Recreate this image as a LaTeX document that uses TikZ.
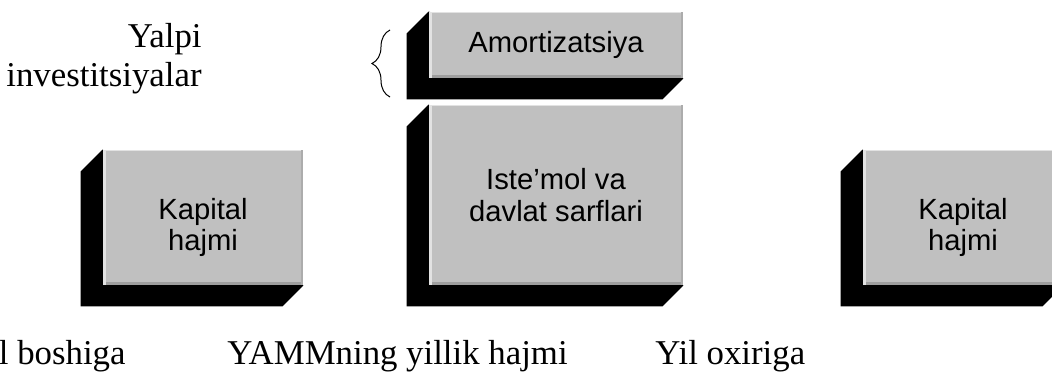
\documentclass[tikz,border=0pt]{standalone}
\usepackage{fontspec}
\setmainfont{Liberation Serif}
\newfontfamily\slabfont{Liberation Sans}
\usetikzlibrary{positioning,calc,backgrounds,decorations.pathreplacing}
\definecolor{slabgray}{RGB}{192,192,192}
\definecolor{bevlite}{RGB}{226,226,226}
\definecolor{bevdark}{RGB}{158,158,158}
\tikzset{
  slab/.style={rectangle, fill=slabgray, inner sep=0pt, align=center,
               font=\slabfont\fontsize{14.6}{15.6}\selectfont},
  slabtext/.style={inner sep=0pt, align=center, font=\slabfont\fontsize{14.6}{15.6}\selectfont},
  lbl/.style={inner sep=0pt, font=\fontsize{17.4}{19.5}\selectfont},
  brc/.style={decorate, decoration={brace, amplitude=9pt}, line width=0.5pt},
}

\begin{document}
\begin{tikzpicture}[x=0.5pt, y=-0.5pt]
\useasboundingbox (0,0) rectangle (1052,376);
\clip (0,0) rectangle (1052,376);

% ===================== the slabs =========================================
\node[slab, minimum width=100pt, minimum height=67.5pt] (cap0) at (203,217.5) {};
\node[slab, minimum width=127pt, minimum height=33pt] (amort) at (556,45) {Amortizatsiya};
\node[slab, minimum width=127pt, minimum height=90pt] (cons) at (556,195) {Iste’mol va\\davlat sarflari};
\node[slab, minimum width=100pt, minimum height=67.5pt] (cap1) at (963,217.5) {};

% ---- black shadow and bevel edges ---------------------------------------
\begin{scope}[on background layer]
\foreach \n in {cap0,amort,cons,cap1} {
  \fill[black] (\n.north west) -- ++(-22,22) -- ($(\n.south west)+(-22,21)$)
    -- ($(\n.south east)+(-21,21)$) -- (\n.south east) -- cycle;
}
\end{scope}
\foreach \n in {cap0,amort,cons,cap1} {
  \fill[bevdark] ([yshift=1.5pt]\n.south west) rectangle (\n.south east);
  \fill[bevdark!60!slabgray] (\n.north east) rectangle ([xshift=-1pt]\n.south east);
  \fill[bevlite] (\n.north west) rectangle ([xshift=-1pt,yshift=-0.8pt]\n.north east);
  \fill[bevlite] (\n.north west) rectangle ([xshift=1.5pt]\n.south west);
}

% capital stock text sits a little below the middle of its slab
\node[slabtext] (cap0t) at ([yshift=-5pt]cap0.center) {Kapital\\hajmi};
\node[slabtext] (cap1t) at ([yshift=-5pt]cap1.center) {Kapital\\hajmi};

% ===================== brace and labels ==================================
\coordinate (brtop) at (390,30);
\coordinate (brbot) at (390,97);
\draw[brc] (brbot) -- (brtop);

\node[lbl, align=right, anchor=north east] (gross) at (202,23) {Yalpi\\investitsiyalar};

\node[lbl, anchor=base east] (start) at (126,364) {Yil boshiga};
\node[lbl, anchor=base west] (gdp) at (227,364) {YAMMning yillik hajmi};
\node[lbl, anchor=base west] (finish) at (655,364) {Yil oxiriga};

\end{tikzpicture}
\end{document}
